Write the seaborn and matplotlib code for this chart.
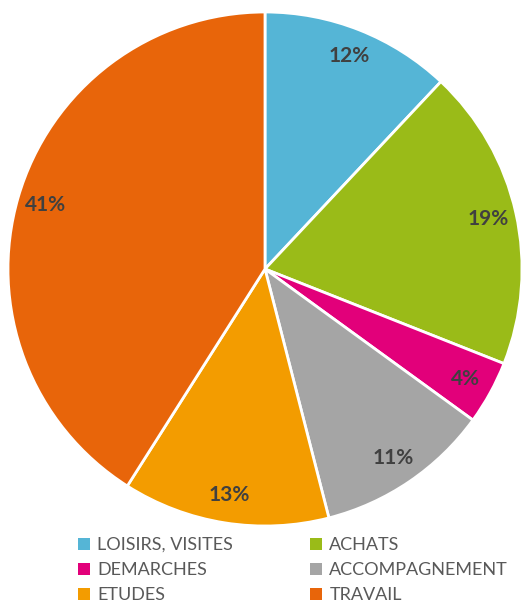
import matplotlib
matplotlib.use("Agg")
import matplotlib.pyplot as plt
import seaborn as sns
from matplotlib.patches import Patch

sns.set_theme(style="white")
plt.rcParams['font.family'] = ['Lato', 'DejaVu Sans']

categories = ["LOISIRS, VISITES", "ACHATS", "DEMARCHES", "ACCOMPAGNEMENT", "ETUDES", "TRAVAIL"]
values = [12, 19, 4, 11, 13, 41]
colors = ["#55B5D6", "#9ABB18", "#E2007A", "#A5A5A5", "#F39C00", "#E8650A"]

fig = plt.figure(figsize=(5.21, 6.06), dpi=100)
ax = fig.add_axes([8/521, 80/606, 514/521, 514/606])
wedges, texts, autotexts = ax.pie(
    values, colors=colors, startangle=90, counterclock=False,
    autopct=lambda p: f"{p:.0f}%", pctdistance=0.89,
    wedgeprops=dict(edgecolor="white", linewidth=2),
    textprops=dict(color="#404040", fontsize=15, fontweight="bold"))
ax.set_xlim(-1, 1)
ax.set_ylim(-1, 1)
ax.set_aspect("equal")
ax.axis("off")

handles = [Patch(facecolor=c, edgecolor="none") for c in colors]
order = [0, 2, 4, 1, 3, 5]
leg = fig.legend([handles[i] for i in order], [categories[i] for i in order],
                 ncol=2, loc="upper left", bbox_to_anchor=(78/521, 1 - 537/606),
                 frameon=False, fontsize=13, handlelength=0.65, handleheight=0.65,
                 handletextpad=0.4, columnspacing=4.3, labelspacing=0.5,
                 labelcolor="#595959", borderaxespad=0, borderpad=0)
fig.savefig("out.png", dpi=100)
